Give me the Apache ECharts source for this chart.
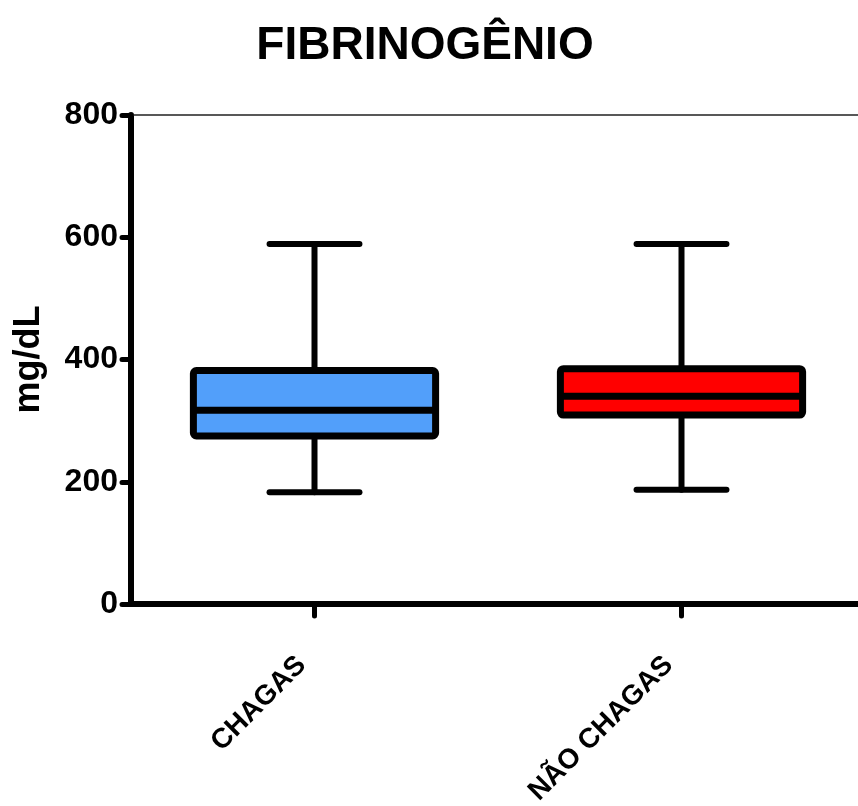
<!DOCTYPE html>
<html>
<head>
<meta charset="utf-8">
<script src="https://cdn.jsdelivr.net/npm/echarts@6/dist/echarts.min.js"></script>
<style>html,body{margin:0;padding:0;background:#fff;}#c{width:858px;height:806px;}</style>
</head>
<body>
<div id="c"></div>
<script>
// Data
const categories = ['CHAGAS', 'NÃO CHAGAS'];
const minValues    = [183, 187];
const q1Values     = [275, 309];
const medianValues = [317, 340];
const q3Values     = [382, 385];
const maxValues    = [589, 589];
const boxColors    = ['#529ffa', '#ff0000'];
const yTicks = [0, 200, 400, 600, 800];

const FONT = '"Liberation Sans", Arial, sans-serif';
const chart = echarts.init(document.getElementById('c'));

const seriesData = categories.map((c, i) => [i, minValues[i], q1Values[i], medianValues[i], q3Values[i], maxValues[i]]);

function renderItem(params, api) {
  const x = api.value(0);
  const pMin = api.coord([x, api.value(1)]);
  const pQ1 = api.coord([x, api.value(2)]);
  const pMed = api.coord([x, api.value(3)]);
  const pQ3 = api.coord([x, api.value(4)]);
  const pMax = api.coord([x, api.value(5)]);
  const band = api.size([1, 0])[0];
  const bw = band * 0.66;
  const cw = band * 0.245;
  const cx = pMed[0];
  const lineStyle = { stroke: '#000', lineWidth: 6, lineCap: 'round' };
  return {
    type: 'group',
    children: [
      { type: 'line', shape: { x1: cx, y1: pMax[1], x2: cx, y2: pQ3[1] }, style: lineStyle },
      { type: 'line', shape: { x1: cx, y1: pQ1[1], x2: cx, y2: pMin[1] }, style: lineStyle },
      { type: 'line', shape: { x1: cx - cw / 2, y1: pMax[1], x2: cx + cw / 2, y2: pMax[1] }, style: lineStyle },
      { type: 'line', shape: { x1: cx - cw / 2, y1: pMin[1], x2: cx + cw / 2, y2: pMin[1] }, style: lineStyle },
      { type: 'rect', shape: { x: cx - bw / 2, y: pQ3[1], width: bw, height: pQ1[1] - pQ3[1], r: 3 },
        style: { fill: boxColors[params.dataIndex], stroke: '#000', lineWidth: 7, lineJoin: 'round' } },
      { type: 'line', shape: { x1: cx - bw / 2, y1: pMed[1], x2: cx + bw / 2, y2: pMed[1] }, style: { stroke: '#000', lineWidth: 7 } }
    ]
  };
}

chart.setOption({
  animation: false,
  backgroundColor: '#fff',
  title: {
    text: 'FIBRINOGÊNIO', left: 420, top: 18, textAlign: 'center',
    textStyle: { fontFamily: FONT, fontWeight: 'bold', fontSize: 46, color: '#000' }
  },
  grid: { left: 131, top: 115, width: 734, bottom: 202, outerBoundsMode: 'none', containLabel: false },
  xAxis: [{
    type: 'category', data: categories, position: 'bottom',
    axisLine: { show: true, lineStyle: { color: '#000', width: 6 } },
    axisTick: { show: true, interval: 0, alignWithLabel: true, length: 12, lineStyle: { color: '#000', width: 5, cap: 'round' } },
    axisLabel: { rotate: 45, margin: 44, interval: 0, padding: [0, 18, 0, 0], fontFamily: FONT, fontWeight: 'bold', fontSize: 28, color: '#000' }
  }, {
    type: 'category', data: categories, position: 'top',
    axisLine: { show: true, lineStyle: { color: '#222', width: 1.5 } },
    axisTick: { show: false }, axisLabel: { show: false }
  }],
  yAxis: {
    type: 'value', min: yTicks[0], max: yTicks[yTicks.length - 1], interval: 200,
    name: 'mg/dL', nameLocation: 'middle', nameGap: 84, nameRotate: 90,
    nameTextStyle: { fontFamily: FONT, fontWeight: 'bold', fontSize: 36, color: '#000' },
    axisLine: { show: true, lineStyle: { color: '#000', width: 6 } },
    axisTick: { show: true, length: 9, lineStyle: { color: '#000', width: 5, cap: 'round' } },
    axisLabel: { margin: 13, fontFamily: FONT, fontWeight: 'bold', fontSize: 32, color: '#000' },
    splitLine: { show: false }
  },
  series: [{
    type: 'custom', renderItem: renderItem, data: seriesData,
    encode: { x: 0, y: [1, 2, 3, 4, 5] }, clip: false
  }]
});
</script>
</body>
</html>
